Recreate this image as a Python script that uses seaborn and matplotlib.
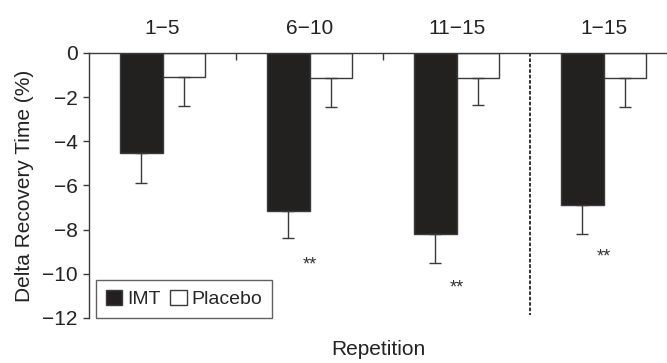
import pandas as pd
import matplotlib.pyplot as plt
import seaborn as sns
from matplotlib.patches import Patch

# Data
groups = ['1\u22125', '6\u221210', '11\u221215', '1\u221215']
conditions = ['IMT', 'Placebo']
imt_mean = [-4.55, -7.15, -8.2, -6.9]
imt_err = [1.35, 1.25, 1.3, 1.3]
placebo_mean = [-1.1, -1.15, -1.15, -1.15]
placebo_err = [1.3, 1.3, 1.2, 1.3]
star_y = [None, -9.6, -10.65, -9.25]

BAR_DARK = '#231f20'
EDGE = '#3a3a3a'
TXT = '#222222'

df = pd.DataFrame({
    'Repetition': groups * 2,
    'Condition': ['IMT'] * 4 + ['Placebo'] * 4,
    'Delta': imt_mean + placebo_mean,
})

sns.set_style('white')
plt.rcParams['font.family'] = ['Liberation Sans', 'DejaVu Sans']

fig = plt.figure(figsize=(6.67, 3.63), dpi=100)
ax = fig.add_axes([0.1334, 0.124, 0.8666, 0.730])

sns.barplot(data=df, x='Repetition', y='Delta', hue='Condition', order=groups,
            hue_order=conditions, palette={'IMT': BAR_DARK, 'Placebo': 'white'},
            width=0.58, errorbar=None, edgecolor=EDGE, linewidth=1.0,
            legend=False, ax=ax)

# one-sided (downward) error bars
for cont, errs in zip(ax.containers, [imt_err, placebo_err]):
    for bar, e in zip(cont, errs):
        xc = bar.get_x() + bar.get_width() / 2
        h = bar.get_height()
        ax.errorbar(xc, h, yerr=[[e], [0]], fmt='none', ecolor=EDGE,
                    elinewidth=1.0, capsize=4, capthick=1.0)

for i, y in enumerate(star_y):
    if y is not None:
        ax.text(i, y, '**', ha='center', va='center', fontsize=13, color='#333333')

# dashed separator before the overall column
ax.plot([2.5, 2.5], [0, -11.85], color='#222222', lw=1.3, ls=(0, (2, 1)))

ax.set_ylim(-12, 0)
ax.set_xlim(-0.5, 3.43)
ax.set_yticks([0, -2, -4, -6, -8, -10, -12])

ax.xaxis.set_ticks_position('top')
ax.xaxis.set_label_position('bottom')
ax.set_xticks([0, 1, 2, 3])
ax.set_xticklabels(groups)
ax.set_xticks([0.5, 1.5], minor=True)
ax.tick_params(axis='x', which='major', length=0, pad=11, labelsize=15, colors=TXT)
ax.tick_params(axis='x', which='minor', direction='in', length=5, width=1.0, color=EDGE)
ax.tick_params(axis='y', direction='out', length=4.5, width=1.0, color=EDGE,
               left=True, labelsize=15, pad=3.5, labelcolor=TXT)

for s in ['bottom', 'right']:
    ax.spines[s].set_visible(False)
for s in ['top', 'left']:
    ax.spines[s].set_color(EDGE)
    ax.spines[s].set_linewidth(1.0)

ax.set_ylabel('Delta Recovery Time (%)', fontsize=15, color=TXT, labelpad=6)
ax.set_xlabel('Repetition', fontsize=15, color=TXT, labelpad=16)

handles = [Patch(facecolor=BAR_DARK, edgecolor=EDGE, label='IMT'),
           Patch(facecolor='white', edgecolor=EDGE, label='Placebo')]
leg = ax.legend(handles=handles, loc='lower left', bbox_to_anchor=(0.012, 0.0),
                ncol=2, frameon=True, fancybox=False, fontsize=14,
                handlelength=0.85, handleheight=0.85, handletextpad=0.25,
                columnspacing=0.5, borderaxespad=0, borderpad=0.5)
leg.get_frame().set_edgecolor(EDGE)
leg.get_frame().set_linewidth(1.0)

fig.savefig('out.png', dpi=100)
